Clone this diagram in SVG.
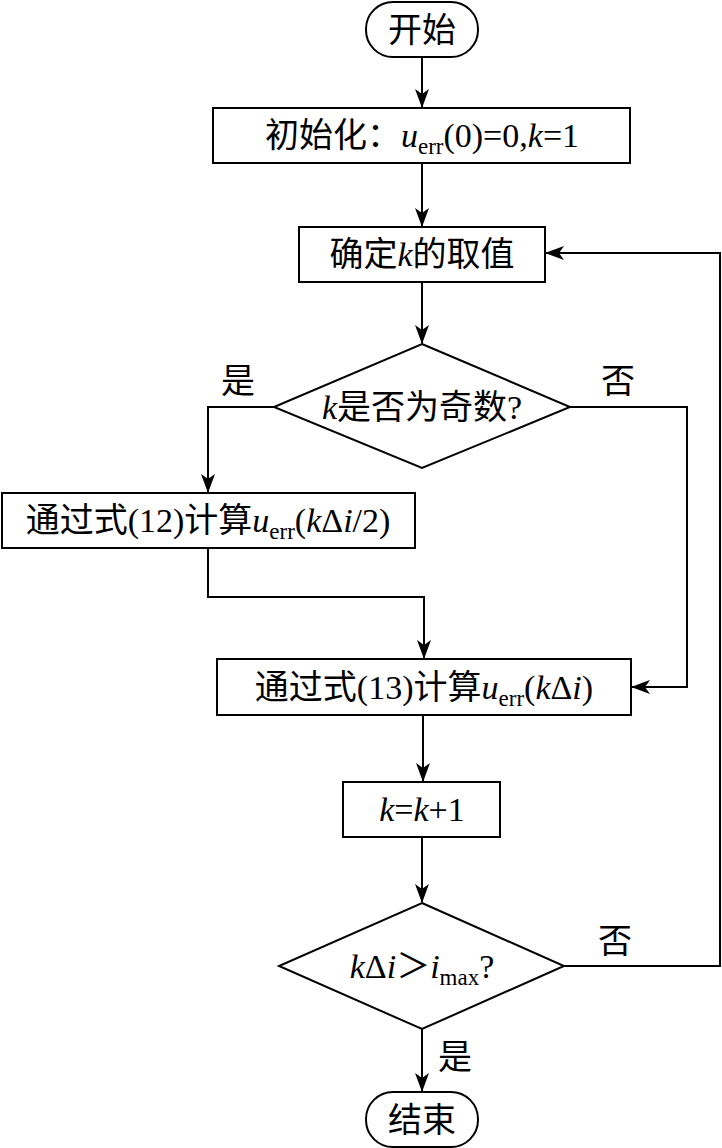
<svg xmlns="http://www.w3.org/2000/svg" width="722" height="1148" viewBox="0 0 722 1148">
<style>
.s{fill:#fff;stroke:#000;stroke-width:2}
.c{fill:none;stroke:#000;stroke-width:2}
text{font-family:"Liberation Serif","Noto Sans CJK SC",serif;font-size:34px;fill:#000}
.t{text-anchor:middle}
.i{font-style:italic}
.sub{font-size:23px}
</style>
<defs>
<marker id="a" markerWidth="20" markerHeight="14" refX="18" refY="7" orient="auto" markerUnits="userSpaceOnUse">
<path d="M0,0 L19,7 L0,14 L5,7 z" fill="#000"/>
</marker>
</defs>
<rect width="722" height="1148" fill="#fff"/>
<g id="connectors">
<path class="c" d="M422,57 V107" marker-end="url(#a)"/>
<path class="c" d="M422,164 V226" marker-end="url(#a)"/>
<path class="c" d="M422,282 V343" marker-end="url(#a)"/>
<path class="c" d="M274,407 H208 V492" marker-end="url(#a)"/>
<path class="c" d="M570,407 H687 V687 H632" marker-end="url(#a)"/>
<path class="c" d="M208,548 V597 H424 V658" marker-end="url(#a)"/>
<path class="c" d="M423,715 V781" marker-end="url(#a)"/>
<path class="c" d="M422,837 V902" marker-end="url(#a)"/>
<path class="c" d="M564,966 H720 V253 H546" marker-end="url(#a)"/>
<path class="c" d="M422,1029 V1091" marker-end="url(#a)"/>
</g>
<g id="start">
<rect class="s" x="366" y="2" width="112" height="55" rx="27" ry="27"/>
<text class="t" x="422" y="42">开始</text>
</g>
<g id="init">
<rect class="s" x="213" y="108" width="417" height="55"/>
<text class="t" x="422" y="147">初始化：<tspan class="i">u</tspan><tspan class="sub" dy="7">err</tspan><tspan dy="-7">(0)=0,</tspan><tspan class="i">k</tspan>=1</text>
</g>
<g id="determine">
<rect class="s" x="299" y="227" width="246" height="55"/>
<text class="t" x="422" y="266">确定<tspan class="i">k</tspan>的取值</text>
</g>
<g id="odd">
<polygon class="s" points="422,344 570,407 422,468 274,407"/>
<text class="t" x="422" y="419"><tspan class="i">k</tspan>是否为奇数?</text>
</g>
<g id="eq12">
<rect class="s" x="2" y="493" width="413" height="55"/>
<text class="t" x="208" y="532">通过式(12)计算<tspan class="i">u</tspan><tspan class="sub" dy="7">err</tspan><tspan dy="-7">(</tspan><tspan class="i">k</tspan>Δ<tspan class="i">i</tspan>/2)</text>
</g>
<g id="eq13">
<rect class="s" x="217" y="659" width="414" height="56"/>
<text class="t" x="424" y="699">通过式(13)计算<tspan class="i">u</tspan><tspan class="sub" dy="7">err</tspan><tspan dy="-7">(</tspan><tspan class="i">k</tspan>Δ<tspan class="i">i</tspan>)</text>
</g>
<g id="inc">
<rect class="s" x="343" y="782" width="157" height="55"/>
<text class="t" x="422" y="821"><tspan class="i">k</tspan>=<tspan class="i">k</tspan>+1</text>
</g>
<g id="cond">
<polygon class="s" points="422,903 564,966 422,1029 279,966"/>
<text class="t" x="422" y="978"><tspan class="i">k</tspan>Δ<tspan class="i">i</tspan>＞<tspan class="i">i</tspan><tspan class="sub" dy="7">max</tspan><tspan dy="-7">?</tspan></text>
</g>
<g id="end">
<rect class="s" x="366" y="1092" width="112" height="55" rx="27" ry="27"/>
<text class="t" x="422" y="1132">结束</text>
</g>
<g id="labels">
<text class="t" x="238" y="393">是</text>
<text class="t" x="618" y="393">否</text>
<text class="t" x="615" y="953">否</text>
<text class="t" x="455" y="1069">是</text>
</g>
</svg>
